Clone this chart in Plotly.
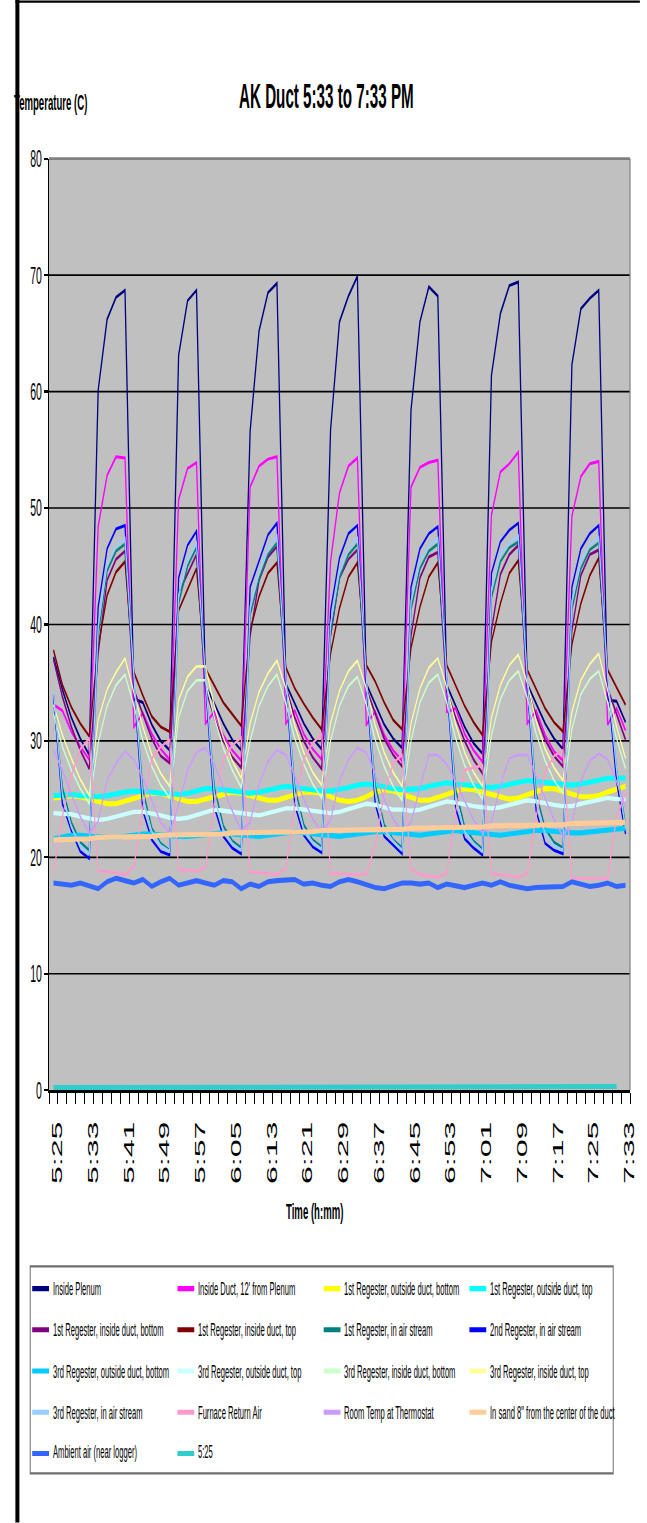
import plotly.graph_objects as go

# ---------------- data ----------------
times = ["5:25","5:27","5:29","5:31","5:33","5:35","5:37","5:39","5:41","5:43","5:45","5:47","5:49","5:51","5:53","5:55","5:57","5:59",
         "6:01","6:03","6:05","6:07","6:09","6:11","6:13","6:15","6:17","6:19","6:21","6:23","6:25","6:27","6:29","6:31","6:33","6:35",
         "6:37","6:39","6:41","6:43","6:45","6:47","6:49","6:51","6:53","6:55","6:57","6:59",
         "7:01","7:03","7:05","7:07","7:09","7:11","7:13","7:15","7:17","7:19","7:21","7:23","7:25","7:27","7:29","7:31","7:33"]
tick_labels = ["5:25","5:33","5:41","5:49","5:57","6:05","6:13","6:21","6:29","6:37","6:45","6:53","7:01","7:09","7:17","7:25","7:33"]

inside_plenum = [37.2, 34.4, 32.0, 30.2, 28.8,
    60.1, 66.2, 68.1, 68.7, 33.6, 33.3, 31.4, 30.0, 29.2,
    63.1, 67.8, 68.7, 34.8, 33.2, 31.5, 30.1, 29.2,
    56.6, 65.2, 68.5, 69.3, 34.9, 33.3, 31.5, 30.2, 29.3,
    56.7, 66.0, 68.2, 69.9, 34.9, 33.2, 31.4, 30.2, 29.4,
    58.4, 66.0, 69.0, 68.2, 34.8, 33.0, 31.2, 29.8, 28.9,
    61.4, 66.7, 69.1, 69.4, 34.9, 33.2, 31.5, 30.2, 29.3,
    62.3, 67.1, 68.0, 68.7, 33.5, 33.4, 31.6]
inside_duct = [33.1, 32.6, 30.8, 29.5, 28.4,
    48.4, 52.8, 54.4, 54.3, 31.2, 32.4, 30.6, 29.3, 28.4,
    50.7, 53.4, 53.9, 31.5, 32.5, 30.5, 29.2, 28.3,
    51.8, 53.6, 54.2, 54.4, 31.5, 32.6, 30.6, 29.3, 28.4,
    45.4, 51.3, 53.6, 54.3, 31.4, 32.5, 30.5, 29.2, 28.3,
    51.8, 53.5, 53.9, 54.1, 32.5, 32.8, 30.6, 29.2, 28.2,
    49.4, 53.1, 53.8, 54.8, 31.5, 32.6, 30.5, 29.1, 28.3,
    49.3, 52.7, 53.8, 54.0, 31.4, 32.8, 30.9]
reg1_out_bottom = [25.1, 25.2, 25.3, 25.2, 25.0, 24.8, 24.6, 24.6, 24.8, 25.1,
    25.3, 25.5, 25.5, 25.3, 25.0, 24.8, 24.8, 25.0, 25.3, 25.5,
    25.6, 25.5, 25.3, 25.0, 24.9, 24.9, 25.1, 25.4, 25.6, 25.6,
    25.5, 25.2, 24.9, 24.8, 24.9, 25.2, 25.6, 25.8, 25.7, 25.4,
    25.1, 24.9, 24.9, 25.1, 25.4, 25.7, 25.9, 25.8, 25.6, 25.3,
    25.1, 25.0, 25.1, 25.4, 25.7, 25.9, 25.9, 25.7, 25.4, 25.2,
    25.2, 25.3, 25.6, 25.9, 26.1]
reg1_out_top = [25.3, 25.4, 25.4, 25.3, 25.2, 25.2, 25.3, 25.5, 25.6, 25.7,
    25.7, 25.6, 25.5, 25.4, 25.4, 25.5, 25.7, 25.9, 25.9, 25.8,
    25.6, 25.5, 25.5, 25.6, 25.8, 26.0, 26.1, 26.0, 25.9, 25.7,
    25.7, 25.7, 25.8, 26.0, 26.2, 26.3, 26.2, 26.0, 25.9, 25.8,
    25.8, 25.9, 26.1, 26.3, 26.4, 26.3, 26.2, 26.1, 26.0, 26.0,
    26.1, 26.3, 26.5, 26.6, 26.5, 26.4, 26.3, 26.2, 26.2, 26.3,
    26.5, 26.7, 26.8, 26.8, 26.8]
reg1_in_bottom = [37.0, 33.8, 31.2, 29.2, 27.6,
    37.5, 43.8, 45.6, 46.3, 34.4, 32.3, 30.2, 28.7, 28.1,
    42.7, 44.4, 46.0, 34.5, 32.0, 30.0, 28.6, 27.7,
    39.0, 43.8, 45.8, 46.7, 34.6, 32.0, 30.0, 28.6, 27.6,
    39.0, 44.0, 45.6, 46.4, 34.5, 32.3, 30.2, 28.8, 27.8,
    39.0, 44.0, 45.8, 46.2, 34.3, 32.0, 30.0, 28.4, 27.2,
    39.5, 44.3, 46.0, 46.8, 34.5, 32.2, 30.1, 28.7, 27.8,
    39.5, 44.2, 46.0, 46.4, 34.5, 32.3, 30.1]
reg1_in_top = [37.8, 34.8, 32.9, 31.5, 30.4,
    38.1, 42.5, 44.5, 45.4, 35.9, 33.9, 32.1, 31.2, 30.8,
    41.2, 43.1, 44.8, 36.2, 34.8, 33.3, 32.3, 31.3,
    39.5, 42.4, 44.4, 45.3, 36.3, 34.5, 33.2, 32.0, 31.0,
    37.5, 41.4, 44.1, 45.3, 36.5, 35.1, 33.3, 31.8, 31.0,
    38.0, 41.5, 44.1, 45.3, 36.5, 34.8, 33.0, 31.6, 30.5,
    38.5, 41.8, 44.4, 45.5, 36.1, 34.4, 32.8, 31.6, 30.8,
    38.3, 41.8, 44.2, 45.7, 36.1, 34.6, 33.1]
reg1_air = [33.5, 26.0, 23.0, 21.3, 20.6,
    39.0, 44.6, 46.3, 46.9, 35.0, 25.8, 22.5, 21.2, 20.6,
    41.8, 45.0, 46.6, 35.0, 26.0, 22.7, 21.4, 20.8,
    40.8, 43.9, 46.0, 47.0, 35.0, 26.0, 22.8, 21.5, 20.9,
    39.3, 44.0, 46.0, 46.9, 35.0, 26.2, 22.8, 21.5, 20.8,
    41.3, 44.8, 46.3, 46.9, 35.0, 25.8, 22.6, 21.4, 20.7,
    42.3, 45.4, 46.6, 47.1, 35.0, 25.5, 22.5, 21.3, 20.8,
    41.3, 44.8, 46.4, 47.0, 35.0, 27.5, 22.8]
reg2_air = [34.0, 24.6, 22.3, 20.5, 19.9,
    41.5, 46.5, 48.2, 48.5, 35.0, 24.0, 21.5, 20.5, 20.2,
    44.0, 46.8, 48.0, 35.0, 24.3, 21.8, 20.8, 20.3,
    43.2, 45.4, 47.7, 48.7, 35.0, 24.5, 21.9, 20.9, 20.4,
    41.2, 45.7, 47.8, 48.5, 35.0, 24.6, 21.8, 21.0, 20.3,
    43.2, 46.5, 47.8, 48.4, 35.0, 24.2, 21.6, 20.8, 20.2,
    44.4, 47.1, 48.1, 48.7, 35.0, 24.0, 21.2, 20.6, 20.3,
    43.2, 46.5, 47.8, 48.5, 35.0, 26.5, 22.0]
reg3_out_bottom = [21.6, 21.8, 21.9, 21.9, 21.8, 21.7, 21.7, 21.7, 21.8, 22.0,
    22.0, 22.0, 21.9, 21.8, 21.8, 21.8, 21.9, 22.0, 22.1, 22.1,
    22.0, 21.9, 21.8, 21.8, 21.9, 22.0, 22.1, 22.2, 22.1, 22.0,
    22.0, 21.9, 21.8, 21.9, 22.0, 22.2, 22.2, 22.2, 22.1, 22.0,
    21.9, 21.9, 22.0, 22.1, 22.2, 22.3, 22.2, 22.1, 22.0, 21.9,
    21.9, 22.0, 22.1, 22.3, 22.3, 22.3, 22.2, 22.1, 22.1, 22.1,
    22.2, 22.3, 22.4, 22.5, 22.5]
reg3_out_top = [23.8, 23.8, 23.7, 23.5, 23.3, 23.2, 23.3, 23.5, 23.7, 23.9,
    23.9, 23.8, 23.6, 23.4, 23.3, 23.4, 23.6, 23.9, 24.1, 24.0,
    23.9, 23.7, 23.6, 23.6, 23.8, 24.0, 24.2, 24.2, 24.1, 23.9,
    23.9, 23.8, 23.9, 24.1, 24.4, 24.6, 24.5, 24.3, 24.1, 24.1,
    24.0, 24.1, 24.3, 24.6, 24.8, 24.7, 24.5, 24.4, 24.3, 24.2,
    24.3, 24.5, 24.8, 24.9, 24.8, 24.6, 24.5, 24.4, 24.4, 24.6,
    24.8, 25.0, 25.1, 25.0, 25.0]
reg3_in_bottom = [32.3, 29.5, 27.5, 25.9, 24.6,
    29.8, 33.0, 34.8, 35.7, 33.0, 30.0, 27.8, 26.2, 25.1,
    32.0, 34.3, 35.2, 35.2, 32.0, 29.4, 27.5, 26.0,
    30.0, 33.0, 34.7, 35.7, 33.2, 30.2, 28.0, 26.3, 25.1,
    30.0, 33.0, 34.7, 35.5, 33.1, 30.1, 27.8, 26.1, 24.9,
    30.0, 33.3, 35.0, 35.7, 33.3, 30.2, 27.9, 26.2, 25.0,
    30.5, 33.6, 35.2, 36.0, 33.7, 30.6, 28.3, 26.6, 25.5,
    31.0, 34.0, 35.3, 36.0, 33.3, 30.2, 27.6]
reg3_in_top = [33.1, 30.5, 28.5, 26.7, 25.3,
    31.8, 34.4, 35.9, 37.1, 34.2, 31.2, 28.8, 27.2, 26.1,
    33.5, 35.5, 36.4, 36.4, 33.0, 30.3, 28.3, 26.8,
    31.5, 34.2, 35.8, 36.9, 34.5, 31.3, 29.0, 27.3, 26.2,
    31.5, 34.3, 36.0, 36.9, 34.5, 31.3, 29.0, 27.3, 26.1,
    31.5, 34.5, 36.3, 37.1, 34.6, 31.4, 29.0, 27.3, 26.1,
    32.0, 34.8, 36.5, 37.4, 35.0, 31.7, 29.3, 27.7, 26.6,
    32.5, 35.2, 36.6, 37.5, 34.4, 31.2, 28.5]
reg3_air = [34.2, 25.3, 22.6, 21.0, 20.3,
    39.8, 45.2, 46.8, 47.4, 35.5, 25.0, 22.2, 21.0, 20.5,
    42.5, 45.6, 47.0, 35.5, 25.2, 22.3, 21.2, 20.6,
    41.5, 44.5, 46.6, 47.6, 35.5, 25.3, 22.4, 21.3, 20.7,
    40.0, 44.6, 46.6, 47.4, 35.5, 25.5, 22.4, 21.4, 20.6,
    42.0, 45.4, 46.8, 47.4, 35.5, 25.0, 22.2, 21.2, 20.5,
    43.0, 46.0, 47.0, 47.6, 35.5, 24.8, 22.0, 21.0, 20.6,
    42.0, 45.4, 46.9, 47.5, 35.5, 27.5, 22.5]
furnace_return = [18.6, 23.5, 27.0, 29.3, 30.2,
    18.8, 18.8, 18.6, 18.5, 19.2, 24.3, 28.5, 29.5, 30.1,
    18.9, 18.9, 18.8, 19.2, 24.5, 28.4, 29.6, 30.3,
    18.7, 18.7, 18.6, 18.5, 19.0, 24.5, 28.5, 29.8, 30.6,
    18.6, 18.6, 18.5, 18.5, 18.6, 21.0, 25.5, 28.1, 28.8,
    19.0, 18.5, 18.4, 18.3, 18.6, 24.0, 27.5, 27.7, 27.9,
    18.6, 18.5, 18.4, 18.3, 18.6, 23.5, 27.3, 28.7, 29.2,
    18.2, 18.2, 18.2, 18.2, 18.2, 23.5, 25.5]
room_temp = [29.2, 27.5, 25.4, 23.5, 22.1,
    23.1, 26.6, 28.1, 29.1, 28.4, 26.8, 24.8, 23.0, 22.1,
    24.5, 27.5, 29.0, 29.4, 28.0, 26.0, 24.0, 22.3,
    23.0, 26.3, 28.2, 29.2, 28.8, 27.0, 25.0, 23.3, 22.2,
    23.2, 26.6, 28.4, 29.4, 29.0, 27.2, 25.0, 23.3, 22.2,
    23.0, 26.0, 28.8, 28.8, 28.0, 26.5, 24.8, 23.2, 22.1,
    23.0, 26.2, 28.5, 28.8, 28.8, 27.0, 25.0, 23.2, 21.8,
    23.0, 26.5, 28.3, 28.9, 28.4, 26.5, 24.3]
in_sand = [21.5, 21.5, 21.6, 21.6, 21.6, 21.7, 21.7, 21.7, 21.8, 21.8,
    21.8, 21.8, 21.9, 21.9, 21.9, 21.9, 22.0, 22.0, 22.0, 22.0,
    22.1, 22.1, 22.1, 22.1, 22.1, 22.2, 22.2, 22.2, 22.2, 22.2,
    22.3, 22.3, 22.3, 22.3, 22.3, 22.4, 22.4, 22.4, 22.4, 22.4,
    22.5, 22.5, 22.5, 22.5, 22.6, 22.6, 22.6, 22.6, 22.6, 22.7,
    22.7, 22.7, 22.7, 22.8, 22.8, 22.8, 22.8, 22.8, 22.9, 22.9,
    22.9, 22.9, 23.0, 23.0, 23.0]
ambient = [17.8, 17.7, 17.6, 17.8, 17.6, 17.3, 17.9, 18.2, 18.0, 17.8,
    18.1, 17.5, 17.9, 18.2, 17.6, 17.8, 18.0, 17.8, 17.6, 18.0,
    17.9, 17.3, 17.7, 17.5, 17.9, 18.0, 18.0, 18.1, 17.7, 17.8,
    17.6, 17.5, 17.9, 18.1, 17.9, 17.6, 17.4, 17.3, 17.5, 17.8,
    17.8, 17.7, 17.8, 17.4, 17.7, 17.6, 17.4, 17.6, 17.8, 17.6,
    17.9, 17.6, 17.4, 17.3, 17.4, 17.4, 17.5, 17.5, 17.9, 17.7,
    17.5, 17.6, 17.8, 17.5, 17.6]
time_525 = [0.226, 0.227, 0.228, 0.230, 0.231, 0.233, 0.234, 0.235, 0.237, 0.238,
    0.240, 0.241, 0.242, 0.244, 0.245, 0.247, 0.248, 0.249, 0.251, 0.252,
    0.253, 0.255, 0.256, 0.258, 0.259, 0.260, 0.262, 0.263, 0.265, 0.266,
    0.267, 0.269, 0.270, 0.272, 0.273, 0.274, 0.276, 0.277, 0.278, 0.280,
    0.281, 0.283, 0.284, 0.285, 0.287, 0.288, 0.290, 0.291, 0.292, 0.294,
    0.295, 0.297, 0.298, 0.299, 0.301, 0.302, 0.303, 0.305, 0.306, 0.308,
    0.309, 0.310, 0.312, 0.313]

series_names = ["Inside Plenum", "Inside Duct, 12' from Plenum", "1st Regester, outside duct, bottom",
    "1st Regester, outside duct, top", "1st Regester, inside duct, bottom", "1st Regester, inside duct, top",
    "1st Regester, in air stream", "2nd Regester, in air stream", "3rd Regester, outside duct, bottom",
    "3rd Regester, outside duct, top", "3rd Regester, inside duct, bottom", "3rd Regester, inside duct, top",
    "3rd Regester, in air stream", "Furnace Return Air", "Room Temp at Thermostat",
    "In sand 8\" from the center of the duct", "Ambient air (near logger)", "5:25"]
series_values = [inside_plenum, inside_duct, reg1_out_bottom, reg1_out_top, reg1_in_bottom, reg1_in_top,
    reg1_air, reg2_air, reg3_out_bottom, reg3_out_top, reg3_in_bottom, reg3_in_top, reg3_air,
    furnace_return, room_temp, in_sand, ambient, time_525]
series_colors = ["#000080", "#FF00FF", "#FFFF00", "#00FFFF", "#800080", "#800000", "#008080", "#0000FF",
    "#00CCFF", "#CCFFFF", "#CCFFCC", "#FFFF99", "#99CCFF", "#FF99CC", "#CC99FF", "#FFCC99", "#3366FF", "#33CCCC"]
series_widths = [1.3, 1.3, 2.2, 2.2, 1.3, 1.3, 1.3, 1.3, 2.2, 1.9, 1.1, 1.1, 1.3, 1.2, 1.1, 2.2, 2.2, 2.2]

# ---------------- geometry ----------------
K = 2.3                 # vertical stretch of the page
W = 647
H = 1523 / K
ML, MR = 49, 10
MT = 159 / K
MB = H - 1090 / K
PW = W - ML - MR
FONT = "Liberation Sans, Arial, sans-serif"

def px_x(x):
    return (x - ML) / PW

def px_y(y):
    return (1090 - y) / (1090 - 159)

fig = go.Figure()
positions = list(range(len(times)))
for name, vals, col, wd in zip(series_names, series_values, series_colors, series_widths):
    fig.add_trace(go.Scatter(x=positions[:len(vals)], y=vals, mode="lines", name=name,
                             line=dict(color=col, width=wd), hoverinfo="skip"))

shapes = []
shapes.append(dict(type="line", xref="paper", yref="paper", x0=0, x1=1, y0=1, y1=1,
                   line=dict(color="#808080", width=1.2), layer="above"))
shapes.append(dict(type="line", xref="paper", yref="paper", x0=1, x1=1, y0=0, y1=1,
                   line=dict(color="#808080", width=1.2), layer="above"))
shapes.append(dict(type="line", xref="paper", yref="paper", x0=px_x(17), x1=px_x(17), y0=px_y(0), y1=px_y(1523),
                   line=dict(color="black", width=4)))
shapes.append(dict(type="line", xref="paper", yref="paper", x0=px_x(15), x1=px_x(647), y0=px_y(2), y1=px_y(2),
                   line=dict(color="black", width=1)))
shapes.append(dict(type="rect", xref="paper", yref="paper", x0=px_x(30), x1=px_x(620), y0=px_y(1473), y1=px_y(1266),
                   line=dict(color="#6e6e6e", width=1), fillcolor="white", layer="below"))

annotations = []
col_x = [51, 198, 346, 493.5]
for i, (name, col) in enumerate(zip(series_names, series_colors)):
    c, r = i % 4, i // 4
    yy = 1288.3 + 41.2 * r
    tx = col_x[c]
    shapes.append(dict(type="line", xref="paper", yref="paper", x0=px_x(tx - 19), x1=px_x(tx - 2),
                       y0=px_y(yy), y1=px_y(yy), line=dict(color=col, width=2.2)))
    annotations.append(dict(text=name, xref="paper", yref="paper", x=px_x(tx), y=px_y(yy),
                            xanchor="left", yanchor="middle", showarrow=False,
                            font=dict(family=FONT, size=7.6, color="black")))

annotations.append(dict(text="AK Duct 5:33 to 7:33 PM", xref="paper", yref="paper", x=px_x(330), y=px_y(96),
                        xanchor="center", yanchor="middle", showarrow=False,
                        font=dict(family=FONT, size=15.2, color="black", weight="bold")))
annotations.append(dict(text="Temperature (C)", xref="paper", yref="paper", x=px_x(12), y=px_y(103),
                        xanchor="left", yanchor="middle", showarrow=False,
                        font=dict(family=FONT, size=9.6, color="black", weight="bold")))
annotations.append(dict(text="Time (h:mm)", xref="paper", yref="paper", x=px_x(318), y=px_y(1210),
                        xanchor="center", yanchor="middle", showarrow=False,
                        font=dict(family=FONT, size=9.6, color="black", weight="bold")))

fig.update_layout(
    width=W, height=H, autosize=False,
    margin=dict(l=ML, r=MR, t=MT, b=MB, pad=0),
    paper_bgcolor="white", plot_bgcolor="#C0C0C0",
    showlegend=False,
    font=dict(family=FONT, color="black"),
    shapes=shapes, annotations=annotations,
    xaxis=dict(range=[-0.5, len(times) - 0.5], tickmode="array",
               tickvals=[p + 0.45 for p in positions[::4]], ticktext=tick_labels, tickangle=-90,
               ticks="", showgrid=False, zeroline=False, showline=True, linecolor="black", linewidth=1,
               tickfont=dict(family=FONT, size=14, color="black"), ticklabelstandoff=7,
               minor=dict(tickmode="array", tickvals=[p - 0.5 for p in range(len(times) + 1)],
                          ticks="outside", ticklen=5, tickcolor="black", tickwidth=1, showgrid=False)),
    yaxis=dict(range=[0, 80], tickmode="linear", tick0=0, dtick=10, ticks="outside", ticklen=4,
               tickcolor="black", showgrid=True, gridcolor="black", gridwidth=0.7, zeroline=False,
               showline=True, linecolor="black", linewidth=1,
               tickfont=dict(family=FONT, size=10.5, color="black")),
)

post = """
document.documentElement.style.margin='0';
document.body.style.margin='0';
document.body.style.padding='0';
document.body.style.overflow='hidden';
var gd = document.getElementById('{plot_id}');
gd.style.transformOrigin = '0 0';
gd.style.transform = 'scale(1, %s)';
""" % K

fig.write_html("out.html", post_script=post, config={"displayModeBar": False, "staticPlot": True})
